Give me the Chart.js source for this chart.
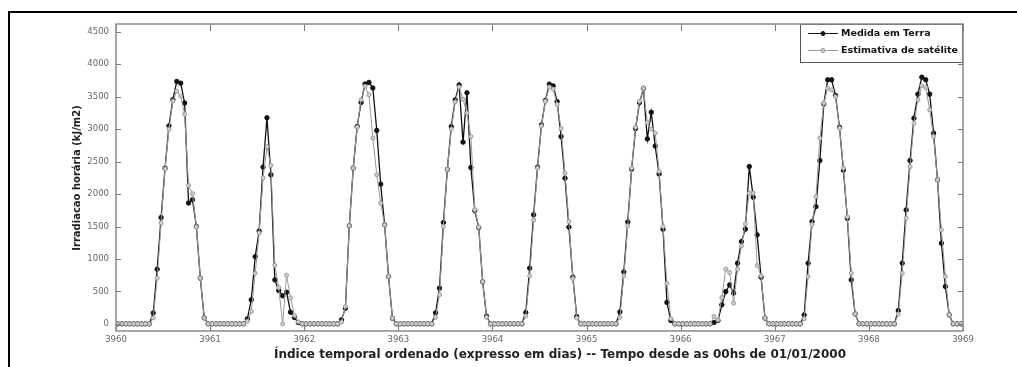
<!DOCTYPE html>
<html>
<head>
<meta charset="utf-8">
<script src="https://cdn.jsdelivr.net/npm/chart.js@4"></script>
<style>
  html, body { margin: 0; padding: 0; background: #fff; }
  #wrap { width: 1018px; height: 367px; }
</style>
</head>
<body>
<div id="wrap"><canvas id="chart" width="1018" height="367"></canvas></div>
<script>
// dias no eixo x e valores do eixo y
const xTicks = [3960, 3961, 3962, 3963, 3964, 3965, 3966, 3967, 3968, 3969];
const yTicks = [0, 500, 1000, 1500, 2000, 2500, 3000, 3500, 4000, 4500];
const primeiroDia = 3960;
const horasPorDia = 24;

// irradiacao horaria (kJ/m2), uma linha por dia, 24 horas cada
const medidaTerra = [
  0,0,0,0,0,0,0,0,0, 168,842,1638,2398,3051,3454,3735,3709,3403,1862,1913,1500,704,92, 0,
  0,0,0,0,0,0,0,0,0, 77,372,1036,1430,2415,3175,2297,678,514,432,488,180,98,20, 0,
  0,0,0,0,0,0,0,0,0, 62,242,1511,2400,3042,3412,3695,3720,3633,2980,2153,1526,730,87, 0,
  0,0,0,0,0,0,0,0,0, 170,550,1561,2380,3040,3451,3680,2800,3560,2408,1746,1484,648,118, 0,
  0,0,0,0,0,0,0,0, 174,858,1680,2415,3066,3441,3693,3667,3425,2886,2245,1490,720,112, 0,0,
  0,0,0,0,0,0,0,0, 184,800,1570,2385,3010,3410,3627,2850,3260,2740,2310,1459,330,51, 0,0,
  0,0,0,0,0,0,0,0, 20,51,293,498,601,473,935,1268,1459,2424,1952,1371,720,88, 0,0,
  0,0,0,0,0,0,0, 139,935,1576,1807,2516,3390,3760,3760,3518,3030,2370,1628,678,154, 0,0,0,
  0,0,0,0,0,0,0, 205,935,1756,2516,3169,3539,3801,3760,3539,2938,2219,1243,575,139, 0,0,0
];

const estimativaSatelite = [
  0,0,0,0,0,0,0,0,0, 92,704,1556,2388,3000,3434,3587,3510,3230,2133,2005,1495,704,92, 0,
  0,0,0,0,0,0,0,0,0, 40,190,780,1400,2250,2730,2440,900,560,0,750,400,130,30, 0,
  0,0,0,0,0,0,0,0,0, 30,267,1511,2400,3030,3453,3660,3530,2862,2297,1860,1526,730,87, 0,
  0,0,0,0,0,0,0,0,0, 100,450,1500,2380,3000,3420,3650,3460,3250,2886,1760,1490,650,100, 0,
  0,0,0,0,0,0,0,0, 120,740,1600,2400,3050,3430,3650,3620,3380,3010,2320,1577,700,90, 0,0,
  0,0,0,0,0,0,0,0, 100,740,1510,2400,3030,3430,3630,3100,3000,2940,2350,1500,620,80, 0,0,
  0,0,0,0,0,0,0,0, 113,60,405,843,791,319,843,1202,1541,2013,2013,900,740,88, 0,0,
  0,0,0,0,0,0,0, 80,729,1530,1961,2861,3400,3631,3605,3500,3015,2399,1650,781,154, 0,0,0,
  0,0,0,0,0,0,0, 150,781,1628,2422,3092,3450,3667,3641,3297,2886,2219,1448,729,139, 0,0,0
];

const nomes = ['Medida em Terra', 'Estimativa de satélite'];

function pontos(valores) {
  return valores.map((v, i) => ({ x: primeiroDia + (i + 0.5) / horasPorDia, y: v }));
}

const PRETO = '#111';
const CINZA = '#999';
const FONTE = '"DejaVu Sans", Verdana, sans-serif';

// caixa dos eixos, ticks para dentro, legenda, titulos e moldura
const moldura = {
  id: 'moldura',
  afterDraw(chart) {
    const { ctx, chartArea: a, scales: { x, y } } = chart;
    ctx.save();

    ctx.strokeStyle = '#7a7a7a';
    ctx.lineWidth = 1;
    ctx.beginPath();
    xTicks.forEach(t => {
      const px = Math.round(x.getPixelForValue(t)) + 0.5;
      ctx.moveTo(px, a.bottom); ctx.lineTo(px, a.bottom - 6);
      ctx.moveTo(px, a.top); ctx.lineTo(px, a.top + 7);
    });
    yTicks.forEach(t => {
      const py = Math.round(y.getPixelForValue(t)) + 0.5;
      ctx.moveTo(a.left, py); ctx.lineTo(a.left + 5, py);
      ctx.moveTo(a.right, py); ctx.lineTo(a.right - 5, py);
    });
    ctx.stroke();

    // legenda
    const lx = 800, ly = a.top, lw = a.right - 800, lh = 39;
    ctx.fillStyle = '#fff';
    ctx.fillRect(lx, ly, lw, lh);
    ctx.strokeStyle = '#555';
    ctx.lineWidth = 1;
    ctx.strokeRect(lx + 0.5, ly + 0.5, lw - 1, lh - 1);
    const itens = [
      { cor: PRETO, fundo: PRETO, yy: ly + 9 },
      { cor: CINZA, fundo: '#c8c8c8', yy: ly + 26 }
    ];
    ctx.font = 'bold 9.5px ' + FONTE;
    ctx.textBaseline = 'middle';
    itens.forEach((it, i) => {
      ctx.strokeStyle = it.cor;
      ctx.beginPath();
      ctx.moveTo(lx + 8, it.yy + 0.5); ctx.lineTo(lx + 38, it.yy + 0.5);
      ctx.stroke();
      ctx.beginPath();
      ctx.arc(lx + 23, it.yy + 0.5, 2, 0, Math.PI * 2);
      ctx.fillStyle = it.fundo;
      ctx.fill();
      ctx.stroke();
      ctx.fillStyle = '#111';
      ctx.textAlign = 'left';
      ctx.fillText(nomes[i], lx + 41, it.yy + 1);
    });

    // caixa dos eixos
    ctx.strokeStyle = '#8a8a8a';
    ctx.lineWidth = 1.5;
    ctx.strokeRect(a.left, a.top, a.right - a.left, a.bottom - a.top);

    // titulos
    ctx.fillStyle = '#222';
    ctx.textAlign = 'center';
    ctx.textBaseline = 'middle';
    ctx.font = 'bold 12px ' + FONTE;
    ctx.fillText('Índice temporal ordenado (expresso em dias) -- Tempo desde as 00hs de 01/01/2000', 560, 355);
    ctx.save();
    ctx.translate(77, 178);
    ctx.rotate(-Math.PI / 2);
    ctx.font = 'bold 10px ' + FONTE;
    ctx.fillText('Irradiacao horária (kJ/m2)', 0, 0);
    ctx.restore();

    // moldura externa
    ctx.strokeStyle = '#000';
    ctx.lineWidth = 2;
    ctx.beginPath();
    ctx.moveTo(9, 367); ctx.lineTo(9, 12); ctx.lineTo(1017, 12);
    ctx.stroke();

    ctx.restore();
  }
};

new Chart(document.getElementById('chart'), {
  type: 'line',
  data: {
    datasets: [
      {
        label: nomes[0],
        data: pontos(medidaTerra),
        borderColor: PRETO,
        backgroundColor: PRETO,
        borderWidth: 1.3,
        pointRadius: 2.2,
        pointBorderWidth: 1,
        pointBorderColor: PRETO,
        pointBackgroundColor: PRETO,
        tension: 0,
        order: 1
      },
      {
        label: nomes[1],
        data: pontos(estimativaSatelite),
        borderColor: CINZA,
        backgroundColor: '#c8c8c8',
        borderWidth: 1,
        pointRadius: 2,
        pointBorderWidth: 1,
        pointBorderColor: CINZA,
        pointBackgroundColor: '#d0d0d0',
        tension: 0,
        order: 0
      }
    ]
  },
  options: {
    responsive: false,
    animation: false,
    devicePixelRatio: 1,
    layout: { padding: { left: 0, right: 55, top: 24, bottom: 0 } },
    plugins: { legend: { display: false }, tooltip: { enabled: false } },
    scales: {
      x: {
        type: 'linear',
        min: 3960,
        max: 3969,
        afterBuildTicks: s => { s.ticks = xTicks.map(v => ({ value: v })); },
        afterFit: s => { s.height = 36; },
        grid: { display: false, drawTicks: false },
        border: { display: false },
        ticks: {
          padding: 4,
          color: '#666',
          font: { family: FONTE, size: 8.5 },
          callback: v => String(v)
        }
      },
      y: {
        type: 'linear',
        min: -110,
        max: 4620,
        afterBuildTicks: s => { s.ticks = yTicks.map(v => ({ value: v })); },
        afterFit: s => { s.width = 116; },
        grid: { display: false, drawTicks: false },
        border: { display: false },
        ticks: {
          padding: 7,
          color: '#666',
          font: { family: FONTE, size: 8.5 },
          callback: v => String(v)
        }
      }
    }
  },
  plugins: [moldura]
});
</script>
</body>
</html>
